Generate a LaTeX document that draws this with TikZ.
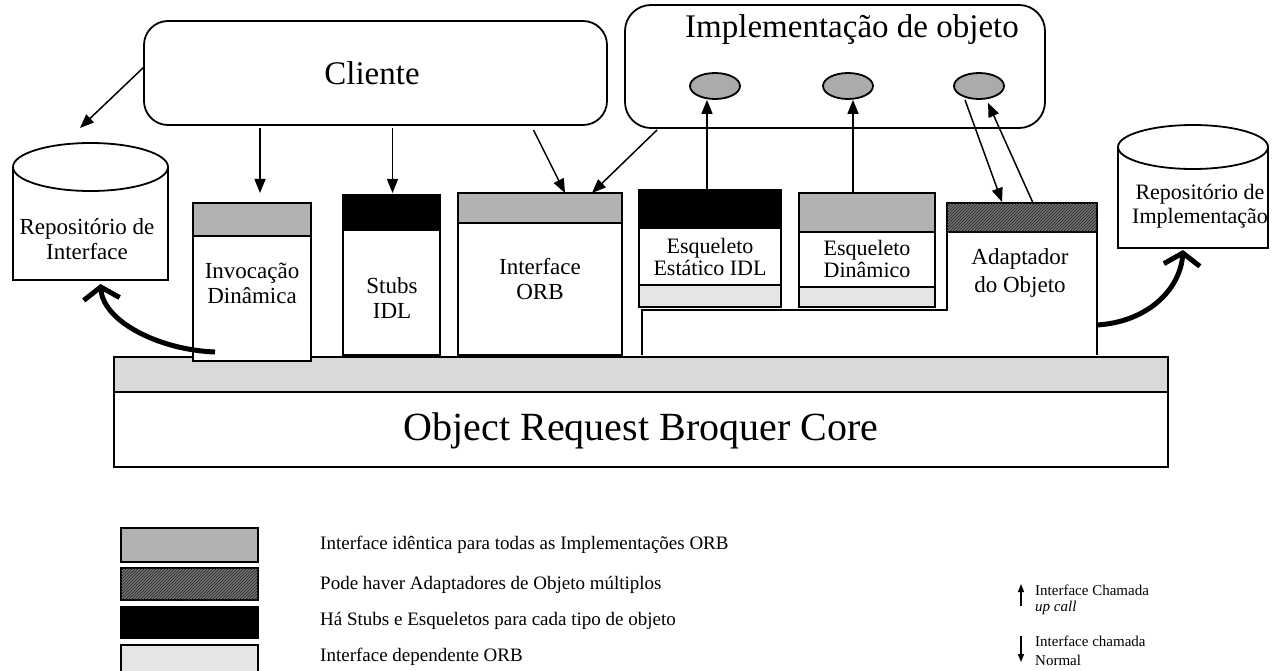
\documentclass[tikz,border=0pt]{standalone}
\usepackage{fontspec}
\setmainfont{Liberation Serif}
\usetikzlibrary{arrows.meta,calc,patterns,shapes.geometric}

\begin{document}
\begin{tikzpicture}[x=1pt,y=-1pt,
  edge/.style={line width=1.8pt},
  area/.style={draw, line width=1.8pt, rectangle, inner sep=0pt, outer sep=0pt, anchor=north west},
  ghost/.style={rectangle, inner sep=0pt, outer sep=0pt, anchor=north west},
  lbl/.style={font=\fontsize{23}{25}\selectfont, align=center, inner sep=0pt},
  keytext/.style={font=\fontsize{19}{22}\selectfont, anchor=west, inner sep=0pt},
  notetext/.style={font=\fontsize{15}{17}\selectfont, anchor=west, inner sep=0pt},
  arr/.style={line width=1.5pt, -{Triangle[length=14pt,width=11pt]}},
  smallarr/.style={line width=1.2pt, -{Triangle[length=8pt,width=6pt]}},
  bigarr/.style={line width=5pt, -{Straight Barb[length=12pt,width=36pt]}},
  obj/.style={ellipse, draw, line width=1.8pt, fill=black!33, minimum width=50pt, minimum height=26pt, inner sep=0pt},
  sameiface/.style={fill=black!30},
  multiadapt/.style={fill=black!55, postaction={pattern=north east lines, pattern color=black!85}},
  perstub/.style={fill=black},
  orbdep/.style={fill=black!10},
]
\useasboundingbox (0,0) rectangle (1281,671);

% ---------- client and object implementation ----------
\node[area, rounded corners=24pt, minimum width=463pt, minimum height=104pt] (cli) at (144,21) {};
\node[font=\fontsize{33}{36}\selectfont, inner sep=0pt] (clit) at (372,73) {Cliente};

\node[area, rounded corners=26pt, minimum width=420pt, minimum height=123pt] (impl) at (625,5) {};
\node[font=\fontsize{33}{36}\selectfont, inner sep=0pt] (implt) at (852,30) {Implementação de objeto};
\node[obj] (e1) at (715,86) {};
\node[obj] (e2) at (848,86) {};
\node[obj] (e3) at (979,86) {};

% ---------- repositories ----------
\node[ghost, minimum width=155pt, minimum height=137pt] (cylL) at (13,143) {};
\draw[edge] (13,167) -- (13,280) -- (168,280) -- (168,167);
\draw[edge, fill=white] (90.5,167) ellipse [x radius=77.5, y radius=24];
\node[lbl] (cylLt) at (87,239) {Repositório de\\Interface};

\node[ghost, minimum width=150pt, minimum height=123pt] (cylR) at (1118,125) {};
\draw[edge] (1118,147) -- (1118,248) -- (1268,248) -- (1268,147);
\draw[edge, fill=white] (1193,147) ellipse [x radius=75, y radius=22];
\node[lbl, font=\fontsize{22}{24}\selectfont] (cylRt) at (1200,206) {Repositório de\\Implementação};

% ---------- ORB core ----------
\node[area, fill=black!15, minimum width=1054pt, minimum height=35pt] (strip) at (114,357) {};
\node[area, fill=white, minimum width=1054pt, minimum height=75pt] (core) at (114,392) {};
\node[font=\fontsize{40}{42}\selectfont, inner sep=0pt] (coret) at (641,431) {Object Request Broquer Core};

% ---------- interfaces on top of the core ----------
\node[area, fill=white, minimum width=118pt, minimum height=158pt] (inv) at (193,203) {};
\node[area, sameiface, minimum width=118pt, minimum height=33pt] (invbar) at (193,203) {};
\node[lbl] (invt) at (252,283) {Invocação\\Dinâmica};

\node[area, fill=white, minimum width=97pt, minimum height=160pt] (stubs) at (343,195) {};
\node[area, perstub, minimum width=97pt, minimum height=35pt] (stubsbar) at (343,195) {};
\node[lbl] (stubst) at (392,298) {Stubs\\IDL};

\node[area, fill=white, minimum width=164pt, minimum height=162pt] (iorb) at (458,193) {};
\node[area, sameiface, minimum width=164pt, minimum height=30pt] (iorbbar) at (458,193) {};
\node[lbl] (iorbt) at (540,279) {Interface\\ORB};

% object adapter body with the step that carries both skeletons
\node[ghost, minimum width=150pt, minimum height=152pt] (adapt) at (947,203) {};
\draw[edge] (642,355) -- (642,310) -- (947,310) -- (947,203) -- (1097,203) -- (1097,355);
\node[area, multiadapt, minimum width=150pt, minimum height=29pt] (adaptbar) at (947,203) {};
\node[lbl, font=\fontsize{23}{28}\selectfont] (adaptt) at (1020,273) {Adaptador\\do Objeto};

\node[area, fill=white, minimum width=142pt, minimum height=117pt] (est) at (639,190) {};
\node[area, perstub, minimum width=142pt, minimum height=38pt] (estbar) at (639,190) {};
\node[area, orbdep, minimum width=142pt, minimum height=22pt] (estbase) at (639,285) {};
\node[lbl, font=\fontsize{22}{22}\selectfont] (estt) at (710,257) {Esqueleto\\Estático IDL};

\node[area, fill=white, minimum width=136pt, minimum height=114pt] (din) at (799,193) {};
\node[area, sameiface, minimum width=136pt, minimum height=39pt] (dinbar) at (799,193) {};
\node[area, orbdep, minimum width=136pt, minimum height=20pt] (dinbase) at (799,287) {};
\node[lbl, font=\fontsize{22}{22}\selectfont] (dint) at (867,259) {Esqueleto\\Dinâmico};

% ---------- calls ----------
\draw[arr] ($(cli.west)+(0,-6)$) -- ($(cylL.north)+(-10.5,-15)$);
\draw[arr] ($(cli.south -| inv.north)+(8,3)$) -- ($(inv.north)+(8,-10)$);
\draw[arr] ($(cli.south -| stubs.north)+(1,3)$) -- ($(stubs.north)+(1,-2)$);
\draw[arr] ($(cli.south)+(158,5)$) -- ($(iorb.north)+(25,0)$);
\draw[arr] ($(impl.south west)+(32,2)$) -- ($(iorb.north)+(52,0)$);

\draw[arr] ($(est.north)+(-3,0)$) -- ($(est.north |- e1.south)+(-3,0)$);
\draw[arr] ($(din.north)+(-14,0)$) -- ($(din.north |- e2.south)+(-14,0)$);
\draw[arr] ($(e3.south)+(-14,0)$) -- ($(adapt.north west)+(55,-1)$);
\draw[arr] ($(adapt.north west)+(86,0)$) -- ($(e3.south)+(9,3)$);

% ---------- repository access ----------
\draw[bigarr] ($(inv.south west)+(22,-9)$) .. controls +(-55,-2) and +(3,38) .. ($(cylL.south)+(10,4)$);
\draw[bigarr] ($(adapt.south east)+(0,-30)$) .. controls +(50,-3) and +(-3,40) .. ($(cylR.south)+(-10,2)$);

% ---------- key ----------
\node[area, sameiface, minimum width=137pt, minimum height=34pt] (k1) at (121,528) {};
\node[area, multiadapt, minimum width=137pt, minimum height=32pt] (k2) at (121,568) {};
\node[area, perstub, minimum width=137pt, minimum height=31pt] (k3) at (121,607) {};
\node[area, orbdep, minimum width=137pt, minimum height=30pt] (k4) at (121,645) {};
\node[keytext] (k1t) at (320,545) {Interface idêntica para todas as Implementações ORB};
\node[keytext] (k2t) at (320,585) {Pode haver Adaptadores de Objeto múltiplos};
\node[keytext] (k3t) at (320,621) {Há Stubs e Esqueletos para cada tipo de objeto};
\node[keytext] (k4t) at (320,657) {Interface dependente ORB};

\coordinate (upA) at (1021,606);
\coordinate (upB) at (1021,584);
\coordinate (dnA) at (1021,636);
\coordinate (dnB) at (1021,662);
\draw[smallarr] (upA) -- (upB);
\draw[smallarr] (dnA) -- (dnB);
\node[notetext] (n1) at (1035,590) {Interface Chamada};
\node[notetext] (n2) at (1035,608) {\itshape up call};
\node[notetext] (n3) at (1035,641) {Interface chamada};
\node[notetext] (n4) at (1035,660) {Normal};
\end{tikzpicture}
\end{document}
